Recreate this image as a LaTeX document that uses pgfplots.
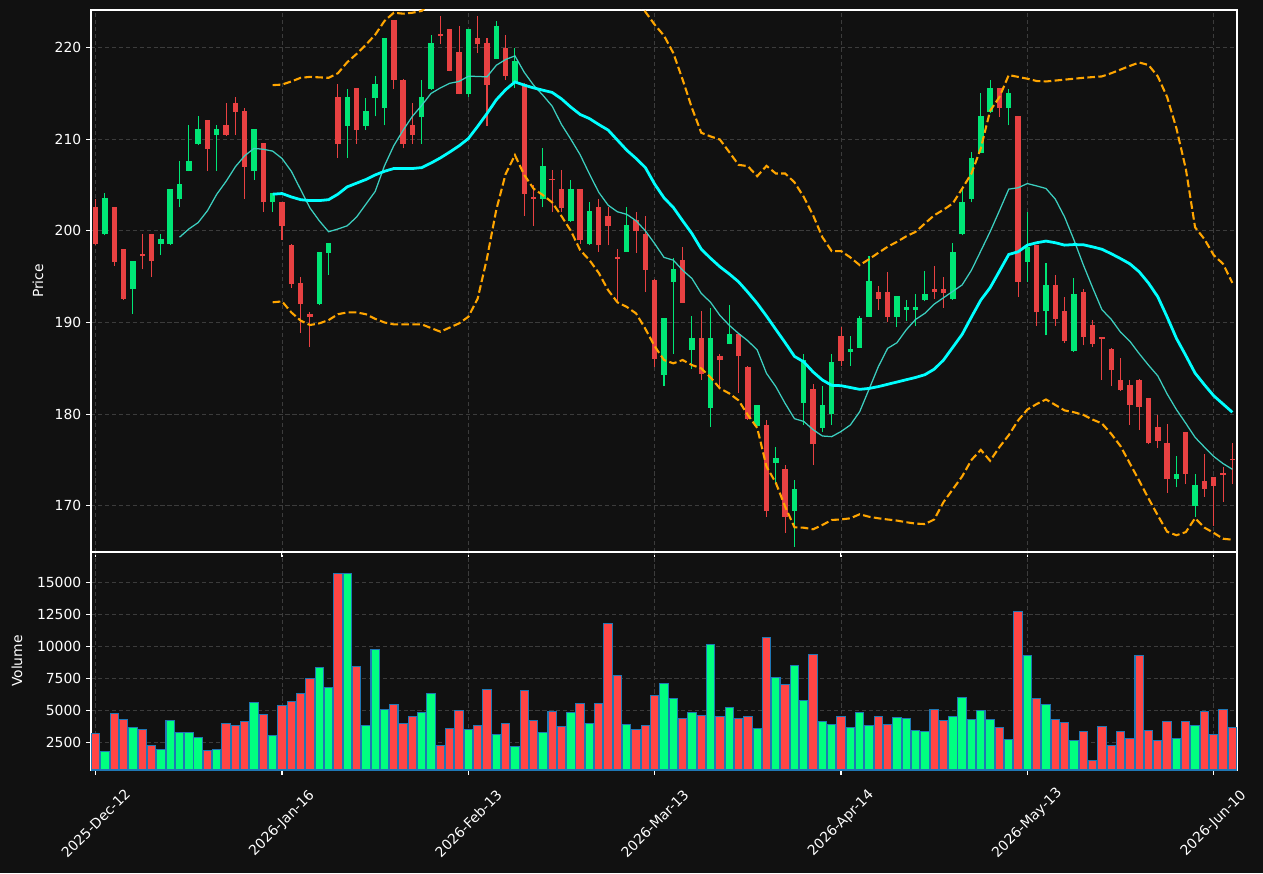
\documentclass[border=0pt]{standalone}
\usepackage{fontspec}
\setmainfont{DejaVu Sans}
\usepackage{pgfplots}
\usepackage{pgfplotstable}
\pgfplotsset{compat=1.18}

\definecolor{bg}{HTML}{111111}
\definecolor{upc}{HTML}{00E676}
\definecolor{dnc}{HTML}{E84142}
\definecolor{volup}{HTML}{00FF80}
\definecolor{voldn}{HTML}{FF4545}
\definecolor{voledge}{HTML}{1F77B4}
\definecolor{gridc}{HTML}{3C3C3C}
\definecolor{malong}{HTML}{00FFFF}
\definecolor{mashort}{HTML}{3CCFC0}
\definecolor{band}{HTML}{FFA500}

% Daily bars: index, open, high, low, close, volume
\pgfplotstableread{
i o h l c v
1 199.6 204.1 199.5 203.6 1797
4 193.6 196.7 190.9 196.7 3672
7 198.6 199.6 197.4 199.1 1953
8 198.6 204.6 198.5 204.55 4219
9 203.5 207.6 202.55 205.1 3281
10 206.55 211.5 206.5 207.6 3281
11 209.5 212.5 209.4 211.1 2891
13 210.5 211.5 206.55 211.1 1953
17 206.55 211.1 205.6 211.1 5625
19 203.1 204.1 202.1 204.1 3047
24 192.0 197.7 191.9 197.7 8359
25 197.6 198.7 195.2 198.66 6797
27 211.45 215.5 208.0 214.6 15703
29 211.45 214.5 211.05 213.05 3828
30 214.5 216.9 212.5 216.0 9766
31 213.4 221.0 211.5 221.0 5078
35 212.4 216.5 209.5 214.6 4844
36 215.5 221.4 215.4 220.5 6328
40 214.9 222.0 214.6 222.0 3516
43 218.8 222.9 218.8 222.4 3125
45 216.2 220.0 215.6 218.5 2188
48 203.5 209.0 202.55 207.05 3281
51 201.06 205.6 201.0 204.55 4844
53 198.6 203.1 198.5 202.15 3984
57 197.7 202.6 197.7 200.6 3906
61 184.3 190.5 183.1 190.5 7109
62 194.4 197.0 186.6 195.8 5938
64 187.0 190.7 184.9 188.3 4844
66 180.7 191.6 178.6 188.3 10156
68 187.7 191.9 187.6 188.7 5234
71 178.7 181.0 178.7 181.0 3594
73 174.7 176.4 172.4 175.2 7578
75 169.4 172.8 165.5 171.8 8516
76 181.25 186.6 178.8 185.9 5781
78 178.5 183.1 178.1 181.0 4141
79 180.05 186.6 178.85 185.7 3906
81 186.8 188.5 185.3 187.1 3672
82 187.2 190.7 187.2 190.5 4844
83 190.6 197.2 190.6 194.5 3828
86 190.6 192.9 189.5 192.9 4453
87 191.4 192.4 190.2 191.7 4375
88 191.4 193.1 189.6 191.7 3438
89 192.4 195.6 192.3 193.1 3359
92 192.6 198.7 192.5 197.7 4531
93 199.6 204.55 199.5 203.1 6016
94 203.5 208.6 203.1 208.0 4297
95 208.5 215.0 208.5 212.5 5000
96 213.0 216.5 212.9 215.6 4297
98 213.4 215.5 211.5 215.0 2734
100 196.6 202.1 194.4 198.2 9297
102 191.2 196.5 188.6 194.1 5469
105 186.9 194.8 186.8 193.1 2656
116 172.95 175.45 172.0 173.5 2813
118 169.95 173.5 168.75 172.3 3828
}\upbars

\pgfplotstableread{
i o h l c v
0 202.6 203.5 198.5 198.6 3203
2 202.6 202.6 196.2 196.6 4766
3 198.0 198.0 192.5 192.6 4297
5 197.5 199.6 195.8 197.2 3516
6 199.6 199.7 195.0 196.7 2266
12 212.1 212.1 206.55 208.95 1875
14 211.5 214.0 210.4 210.5 3984
15 214.0 214.6 210.5 213.0 3828
16 213.05 213.45 203.5 207.0 4141
18 209.6 209.6 202.1 203.1 4688
20 203.1 203.1 199.0 200.55 5391
21 198.4 198.6 193.8 194.2 5703
22 194.3 195.0 188.9 192.0 6328
23 190.9 191.1 187.3 190.6 7500
26 214.6 216.0 208.0 209.5 15703
28 215.6 215.6 209.5 211.0 8438
32 223.0 223.0 215.5 216.5 5469
33 216.5 216.6 209.0 209.5 3984
34 211.5 214.0 209.5 210.5 4531
37 221.5 223.4 220.4 221.3 2266
38 222.0 222.0 217.4 217.45 3594
39 219.5 222.4 214.9 214.95 5000
41 221.0 223.4 219.4 220.35 3828
42 220.5 221.0 211.45 215.9 6641
44 220.0 221.4 216.5 216.9 3984
46 216.0 216.1 201.6 204.0 6563
47 203.65 205.0 200.55 203.45 4219
49 205.7 206.6 202.1 205.5 4922
50 204.55 206.6 202.1 202.5 3750
52 204.55 204.6 198.6 199.0 5547
54 202.6 203.5 197.7 198.4 5547
55 201.6 202.6 198.4 200.55 11797
56 197.1 198.0 192.3 196.9 7734
58 201.2 202.1 197.6 200.0 3516
59 199.6 201.6 193.3 195.75 3828
60 194.6 194.7 185.1 186.0 6172
63 196.8 198.2 192.1 192.15 4375
65 188.3 191.2 183.7 184.4 4609
67 186.35 186.55 182.9 185.85 4531
69 188.7 188.8 182.3 186.3 4375
70 185.1 185.2 179.4 179.5 4531
72 178.8 179.4 168.8 169.4 10703
74 174.0 174.45 167.0 168.8 7031
77 182.7 183.25 174.45 176.7 9375
80 188.5 189.5 185.3 185.8 4531
84 193.3 194.0 191.4 192.6 4531
85 193.3 195.5 190.0 190.6 3906
90 193.65 196.2 192.6 193.35 5078
91 193.65 195.0 191.6 193.2 4219
97 215.6 215.6 212.4 213.4 3672
99 212.5 212.5 192.8 194.4 12734
101 198.4 198.5 189.6 191.1 5938
103 194.1 195.2 189.6 190.4 4297
104 191.3 192.8 187.8 188.0 4063
106 193.3 193.6 187.5 188.45 3359
107 189.7 190.3 187.3 187.7 1094
108 188.4 188.4 183.7 188.2 3750
109 187.1 187.2 183.1 184.85 2266
110 183.75 186.1 182.5 182.65 3359
111 183.2 183.7 178.8 181.0 2813
112 183.75 183.8 178.3 180.75 9297
113 181.8 181.8 176.7 176.8 3438
114 178.6 179.9 176.3 177.1 2656
115 176.8 178.9 171.4 172.9 4141
117 178.1 178.1 172.35 173.5 4141
119 172.65 175.6 171.0 171.8 4922
120 173.1 173.1 167.8 172.2 3125
121 173.55 174.25 170.45 173.4 5078
122 175.1 176.8 172.35 174.95 3672
}\downbars

% 20-day moving average
\pgfplotstableread{
i y
19 204.0
20 204.07
21 203.7
22 203.4
23 203.3
24 203.3
25 203.4
26 204.0
27 204.8
28 205.2
29 205.6
30 206.1
31 206.5
32 206.8
33 206.8
34 206.8
35 206.9
36 207.4
37 207.96
38 208.6
39 209.27
40 210.07
41 211.4
42 212.8
43 214.3
44 215.4
45 216.25
46 215.9
47 215.6
48 215.35
49 215.1
50 214.4
51 213.5
52 212.7
53 212.25
54 211.6
55 211.0
56 209.9
57 208.8
58 207.9
59 206.9
60 205.1
61 203.6
62 202.55
63 201.1
64 199.7
65 198.0
66 197.0
67 196.08
68 195.3
69 194.44
70 193.3
71 192.08
72 190.7
73 189.24
74 187.8
75 186.3
76 185.7
77 184.6
78 183.72
79 183.14
80 183.1
81 182.9
82 182.7
83 182.8
84 183.0
85 183.25
86 183.5
87 183.75
88 184.0
89 184.3
90 184.9
91 185.9
92 187.3
93 188.7
94 190.6
95 192.44
96 193.79
97 195.6
98 197.42
99 197.71
100 198.44
101 198.7
102 198.88
103 198.7
104 198.44
105 198.5
106 198.48
107 198.25
108 197.99
109 197.5
110 196.97
111 196.4
112 195.53
113 194.3
114 192.8
115 190.6
116 188.26
117 186.4
118 184.47
119 183.2
120 182.0
121 181.1
122 180.2
}\smalong

% 10-day moving average
\pgfplotstableread{
i y
9 199.3
10 200.2
11 200.9
12 202.2
13 204.0
14 205.4
15 207.0
16 208.2
17 209.0
18 208.9
19 208.7
20 207.9
21 206.5
22 204.5
23 202.5
24 201.1
25 199.9
26 200.2
27 200.55
28 201.5
29 202.9
30 204.3
31 207.1
32 209.3
33 210.98
34 212.5
35 213.7
36 215.0
37 215.6
38 216.1
39 216.3
40 216.87
41 216.85
42 216.8
43 218.07
44 218.7
45 219.09
46 217.3
47 215.9
48 214.8
49 213.6
50 211.6
51 210.0
52 208.3
53 206.2
54 204.2
55 202.8
56 202.08
57 201.8
58 201.1
59 200.0
60 198.6
61 197.1
62 196.8
63 195.7
64 194.8
65 193.17
66 192.2
67 190.77
68 189.7
69 188.8
70 188.0
71 187.0
72 184.45
73 183.0
74 181.17
75 179.5
76 179.2
77 178.3
78 177.61
79 177.54
80 178.1
81 178.81
82 180.26
83 182.7
84 185.17
85 187.17
86 187.79
87 189.2
88 190.33
89 191.0
90 192.0
91 192.7
92 193.4
93 194.1
94 195.71
95 197.8
96 199.9
97 202.2
98 204.55
99 204.7
100 205.16
101 204.9
102 204.62
103 203.46
104 201.5
105 199.0
106 196.3
107 193.8
108 191.4
109 190.34
110 188.94
111 187.95
112 186.6
113 185.34
114 184.17
115 182.2
116 180.49
117 179.0
118 177.46
119 176.4
120 175.38
121 174.6
122 173.98
}\smashort

% Upper Bollinger band
\pgfplotstableread{
i y
19 215.9
20 215.96
21 216.3
22 216.7
23 216.8
24 216.75
25 216.7
26 217.2
27 218.4
28 219.3
29 220.3
30 221.4
31 222.9
32 223.8
33 223.7
34 223.8
35 224.0
36 225.0
38 228.0
41 231.0
45 233.0
50 231.0
54 228.0
57 226.0
58 225.0
59 223.9
60 222.5
61 221.3
62 219.4
63 216.5
64 213.4
65 210.7
66 210.3
67 209.96
68 208.6
69 207.2
70 207.06
71 205.96
72 207.09
73 206.26
74 206.26
75 205.3
76 203.7
77 201.7
78 199.3
79 197.79
80 197.79
81 197.1
82 196.26
83 196.9
84 197.6
85 198.26
86 198.8
87 199.4
88 199.89
89 200.8
90 201.7
91 202.3
92 203.0
93 204.6
94 206.26
95 209.0
96 213.1
97 214.6
98 217.0
99 216.8
100 216.6
101 216.35
102 216.3
103 216.4
104 216.5
106 216.7
108 216.85
109 217.2
110 217.6
111 218.0
112 218.37
113 218.1
114 216.85
115 214.6
116 211.17
117 206.8
118 200.38
119 199.1
120 197.35
121 196.4
122 194.32
}\bandup

% Lower Bollinger band
\pgfplotstableread{
i y
19 192.2
20 192.3
21 191.1
22 190.2
23 189.72
24 189.9
25 190.26
26 190.9
27 191.1
28 191.1
29 190.9
30 190.4
31 190.0
32 189.79
35 189.79
37 188.99
39 189.9
40 190.62
41 192.6
42 197.0
43 202.3
44 206.2
45 208.26
46 206.1
47 204.6
48 203.9
49 203.1
50 201.6
51 200.0
52 197.9
53 196.8
54 195.4
55 193.53
56 192.2
57 191.7
58 190.99
59 189.3
60 187.4
61 185.9
62 185.54
63 185.9
64 185.35
65 184.99
66 184.0
67 182.81
68 182.26
69 181.5
70 179.9
71 178.5
72 174.27
73 172.5
74 169.9
75 167.65
76 167.6
77 167.43
78 167.9
79 168.45
80 168.5
81 168.63
82 169.07
83 168.8
84 168.63
85 168.5
86 168.38
87 168.2
88 168.05
89 168.0
90 168.5
91 170.4
92 171.8
93 173.2
94 175.0
95 176.1
96 174.9
97 176.4
98 177.7
99 179.3
100 180.5
101 181.1
102 181.6
103 181.0
104 180.4
105 180.2
106 179.92
107 179.4
108 178.98
109 177.84
110 176.5
111 174.62
112 172.73
113 170.8
114 168.94
115 167.16
116 166.78
117 167.12
118 168.64
119 167.61
120 167.04
121 166.4
122 166.29
}\bandlow

\pgfplotsset{
  panel/.style={
    scale only axis,
    width=825.12pt,
    xmin=-0.5, xmax=122.5,
    xtick={0,20,...,120},
    axis line style={white, line width=0.8pt},
    tick style={white, line width=0.8pt},
    tick align=outside,
    tick pos=left,
    major tick length=3.5pt,
    minor tick num=0,
    tick label style={text=white, font=\fontsize{10pt}{12pt}\selectfont},
    label style={text=white, font=\fontsize{10pt}{12pt}\selectfont},
    grid=major,
    major grid style={gridc, line width=0.6pt, dash pattern=on 3pt off 2pt},
    /pgf/number format/assume math mode=true,
  },
  wick/.style={draw=none, mark=none, forget plot,
    error bars/.cd, y dir=plus, y explicit, error mark=none,
    error bar style={draw=#1, line width=0.75pt, solid}},
  body/.style={draw=none, mark=none, forget plot,
    error bars/.cd, y dir=plus, y explicit, error mark=none,
    error bar style={draw=#1, line width=3.9pt, line cap=butt, solid}},
}

\begin{document}
\begin{tikzpicture}
\fill[bg] (0,0) rectangle (909.36pt,-628.56pt);

% Price panel
\begin{axis}[panel,
  at={(65.52pt,-7.2pt)}, anchor=north west,
  height=390.24pt,
  ymin=164.95, ymax=224.1,
  ytick={170,180,...,220},
  xticklabels={},
  ylabel={Price},
  ylabel style={at={(axis description cs:-0.0463,0.5)}, anchor=center},
]
\addplot[wick=dnc] table[x=i, y=l, y error plus expr={\thisrow{h}-\thisrow{l}}] {\downbars};
\addplot[body=dnc] table[x=i, y=c, y error plus expr={\thisrow{o}-\thisrow{c}}] {\downbars};
\addplot[wick=upc] table[x=i, y=l, y error plus expr={\thisrow{h}-\thisrow{l}}] {\upbars};
\addplot[body=upc] table[x=i, y=o, y error plus expr={\thisrow{c}-\thisrow{o}}] {\upbars};

\addplot[mashort, line width=0.9pt, mark=none] table[x=i, y=y] {\smashort};
\addplot[malong, line width=2pt, mark=none] table[x=i, y=y] {\smalong};
\addplot[band, line width=1.5pt, mark=none, dash pattern=on 5.5pt off 2.4pt] table[x=i, y=y] {\bandup};
\addplot[band, line width=1.5pt, mark=none, dash pattern=on 5.5pt off 2.4pt] table[x=i, y=y] {\bandlow};
\end{axis}

% Volume panel
\begin{axis}[panel,
  at={(65.52pt,-397.44pt)}, anchor=north west,
  height=156.96pt,
  ymin=320, ymax=17420,
  ytick={2500,5000,...,15000},
  scaled y ticks=false,
  yticklabel style={/pgf/number format/.cd, fixed, 1000 sep={}},
  xticklabels={2025-Dec-12,2026-Jan-16,2026-Feb-13,2026-Mar-13,2026-Apr-14,2026-May-13,2026-Jun-10},
  xticklabel style={yshift=-35pt, rotate=45, anchor=center},
  ylabel={Volume},
  ylabel style={at={(axis description cs:-0.0646,0.5)}, anchor=center},
]
\addplot[ybar, bar width=0.9, bar shift=0pt, fill=voldn, draw=voledge, line width=0.75pt] table[x=i, y=v] {\downbars};
\addplot[ybar, bar width=0.9, bar shift=0pt, fill=volup, draw=voledge, line width=0.75pt] table[x=i, y=v] {\upbars};
\end{axis}

\pgfresetboundingbox
\path[use as bounding box] (0,0) rectangle (909.36pt,-628.56pt);
\end{tikzpicture}
\end{document}
